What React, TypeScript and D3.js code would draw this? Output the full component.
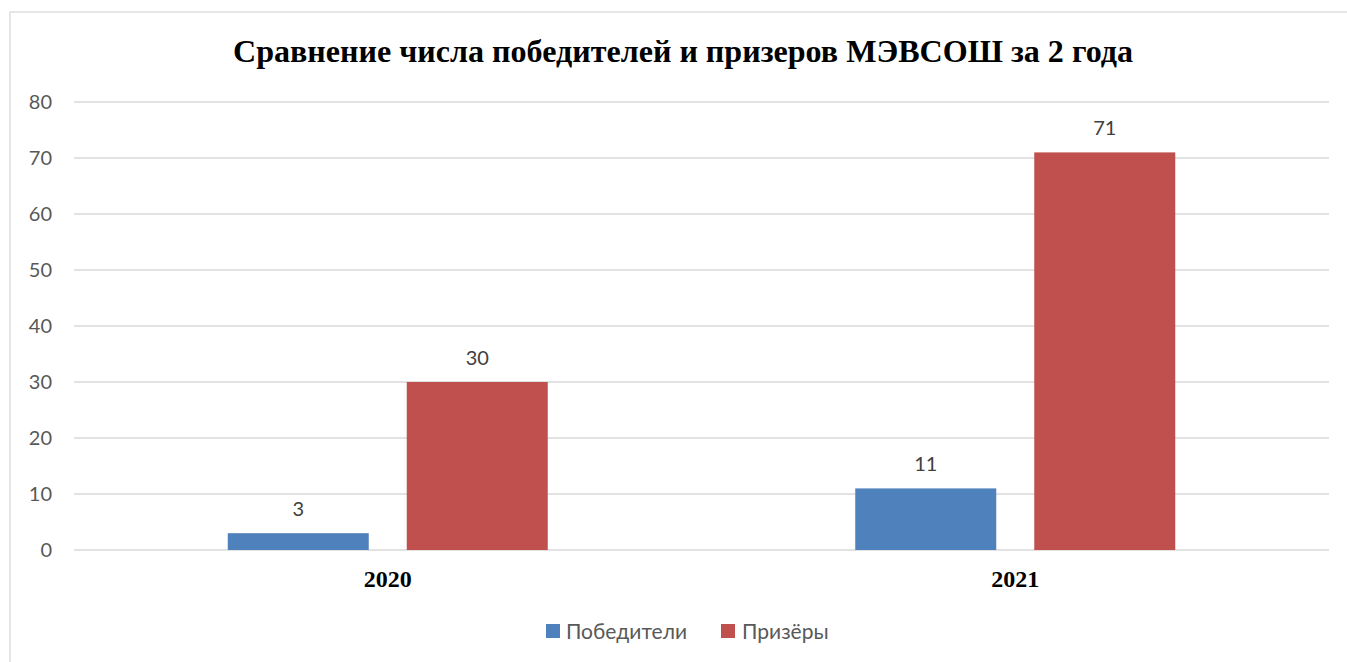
import React from "react";
import * as d3 from "d3";

const categories = ["2020", "2021"];
const seriesNames = ["Победители", "Призёры"];
const winners = [3, 11];
const prizewinners = [30, 71];
const yTicks = [0, 10, 20, 30, 40, 50, 60, 70, 80];
const colors = ["#4F81BD", "#C0504D"];
const title = "Сравнение числа победителей и призеров МЭВСОШ за 2 года";

export default function App() {
  const W = 1347, H = 662;
  const left = 74, right = 1329, top = 102, bottom = 550;
  const x = d3.scaleBand<string>().domain(categories).range([left, right]).paddingInner(0).paddingOuter(0);
  const y = d3.scaleLinear().domain([0, 80]).range([bottom, top]);
  const x1 = d3.scaleBand<string>().domain(seriesNames).range([0, 320]).paddingInner(38 / 179).paddingOuter(0);
  const series = [winners, prizewinners];
  const groupOff = (x.bandwidth() - 320) / 2;
  const sans = "Lato, 'Open Sans', sans-serif";
  const serif = "'Liberation Serif', 'Times New Roman', serif";
  return (
    <svg width={W} height={H} style={{ position: "absolute", left: 0, top: 0, background: "#fff" }}>
      <rect x={10} y={12} width={W} height={H} fill="#fff" stroke="#d9d9d9" strokeWidth={1.3} />
      <text x={683} y={62} textAnchor="middle" fontFamily={serif} fontWeight="bold" fontSize={32} textLength={900} lengthAdjust="spacingAndGlyphs" fill="#000">{title}</text>
      {yTicks.map(t => (
        <g key={t}>
          <line x1={left} x2={right} y1={y(t)} y2={y(t)} stroke="#d9d9d9" strokeWidth={1.3} />
          <text x={52} y={y(t) + 7} textAnchor="end" fontFamily={sans} fontSize={20} fill="#595959">{t}</text>
        </g>
      ))}
      {categories.map((c, i) => (
        <g key={c}>
          {series.map((s, j) => {
            const bx = (x(c) as number) + groupOff + (x1(seriesNames[j]) as number);
            const bw = x1.bandwidth();
            return (
              <g key={j}>
                <rect x={bx} y={y(s[i])} width={bw} height={y(0) - y(s[i])} fill={colors[j]} />
                <text x={bx + bw / 2} y={y(s[i]) - 17} textAnchor="middle" fontFamily={sans} fontSize={20} fill="#404040">{s[i]}</text>
              </g>
            );
          })}
          <text x={(x(c) as number) + x.bandwidth() / 2} y={587} textAnchor="middle" fontFamily={serif} fontWeight="bold" fontSize={24} fill="#000">{c}</text>
        </g>
      ))}
      <g>
        <rect x={546} y={624} width={14} height={14} fill={colors[0]} />
        <text x={566} y={639} fontFamily={sans} fontSize={21} fill="#595959">{seriesNames[0]}</text>
        <rect x={721} y={624} width={14} height={14} fill={colors[1]} />
        <text x={742} y={639} fontFamily={sans} fontSize={21} fill="#595959">{seriesNames[1]}</text>
      </g>
    </svg>
  );
}
